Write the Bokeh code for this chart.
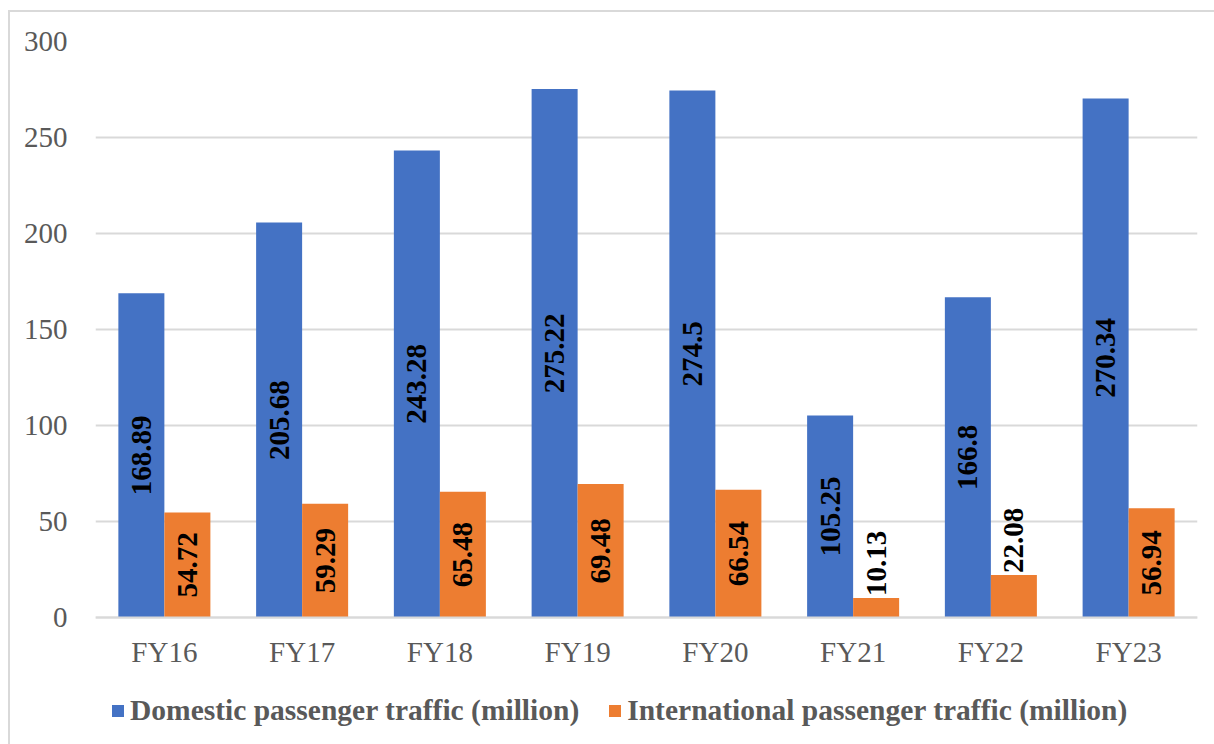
from math import pi
from bokeh.plotting import figure
from bokeh.models import (ColumnDataSource, FactorRange, Range1d, Legend, LegendItem,
                          FixedTicker)
from bokeh.transform import dodge
from bokeh.core.properties import value
from bokeh.embed import file_html
from bokeh.resources import INLINE

# ---- data ----
categories = ["FY16", "FY17", "FY18", "FY19", "FY20", "FY21", "FY22", "FY23"]
domestic = [168.89, 205.68, 243.28, 275.22, 274.5, 105.25, 166.8, 270.34]
international = [54.72, 59.29, 65.48, 69.48, 66.54, 10.13, 22.08, 56.94]
series_names = ["Domestic passenger traffic (million)",
                "International passenger traffic (million)"]
y_ticks = [0, 50, 100, 150, 200, 250, 300]

BLUE = "#4472C4"
ORANGE = "#ED7D31"
GRID = "#D9D9D9"
TEXT = "#595959"
FONT = "Liberation Serif"
FS = "29px"

# layout: plotted value band 0..300 spans 576 px; the frame continues below
# zero so the category labels and legend can live inside it
band_px = 576
frame_h = 703
y_max = y_ticks[-1]
y_min = -(frame_h - band_px) * y_max / band_px

src = ColumnDataSource(dict(cats=categories, dom=domestic, intl=international))

p = figure(x_range=FactorRange(*categories), y_range=Range1d(y_min, y_max),
           frame_width=1102, frame_height=frame_h,
           output_backend="svg", toolbar_location=None,
           min_border_left=85, min_border_right=17, min_border_top=29,
           min_border_bottom=0)
p.styles = {"margin-left": "8px", "margin-top": "10px",
            "border-left": f"2px solid {GRID}", "border-top": f"2px solid {GRID}"}
p.outline_line_color = None
p.background_fill_color = "white"
p.border_fill_color = "white"

bw = 0.334
r1 = p.vbar(x=dodge("cats", -bw / 2, range=p.x_range), top="dom", width=bw,
            source=src, fill_color=BLUE, line_color=None)
r2 = p.vbar(x=dodge("cats", bw / 2, range=p.x_range), top="intl", width=bw,
            source=src, fill_color=ORANGE, line_color=None)

# data labels: centred inside bar, or above bar when the bar is too short
min_inside = 40
for vals, off in ((domestic, -bw / 2), (international, bw / 2)):
    inside = [(c, v / 2, f"{v:g}") for c, v in zip(categories, vals) if v >= min_inside]
    outside = [(c, v, f"{v:g}") for c, v in zip(categories, vals) if v < min_inside]
    if inside:
        s = ColumnDataSource(dict(c=[a[0] for a in inside], y=[a[1] for a in inside],
                                  t=[a[2] for a in inside]))
        p.text(x=dodge("c", off, range=p.x_range), y="y", text="t", source=s,
               angle=pi / 2, text_align="center", text_baseline="middle",
               text_font=value(FONT), text_font_style="bold", text_font_size=FS,
               text_color="black")
    if outside:
        s = ColumnDataSource(dict(c=[a[0] for a in outside], y=[a[1] for a in outside],
                                  t=[a[2] for a in outside]))
        p.text(x=dodge("c", off, range=p.x_range), y="y", text="t", source=s,
               angle=pi / 2, text_align="left", text_baseline="middle",
               y_offset=-2,
               text_font=value(FONT), text_font_style="bold", text_font_size=FS,
               text_color="black")

# axes
p.yaxis.ticker = FixedTicker(ticks=y_ticks)
p.yaxis.axis_line_color = None
p.yaxis.major_tick_line_color = None
p.yaxis.minor_tick_line_color = None
p.yaxis.major_label_standoff = 22
p.yaxis.major_label_text_font = FONT
p.yaxis.major_label_text_font_size = FS
p.yaxis.major_label_text_color = TEXT

p.xaxis.fixed_location = 0
p.xaxis.axis_line_color = GRID
p.xaxis.axis_line_width = 2
p.xaxis.major_tick_line_color = None
p.xaxis.minor_tick_line_color = None
p.xaxis.major_label_standoff = 12
p.xaxis.major_label_text_font = FONT
p.xaxis.major_label_text_font_size = FS
p.xaxis.major_label_text_color = TEXT

p.xgrid.grid_line_color = None
p.ygrid.grid_line_color = GRID
p.ygrid.grid_line_width = 2

legend = Legend(items=[LegendItem(label=series_names[0], renderers=[r1]),
                       LegendItem(label=series_names[1], renderers=[r2])],
                orientation="horizontal", location=(15, 17))
legend.glyph_width = 15
legend.glyph_height = 15
legend.label_standoff = 5
legend.spacing = 28
legend.padding = 0
legend.margin = 0
legend.border_line_color = None
legend.background_fill_alpha = 0
legend.label_text_font = FONT
legend.label_text_font_style = "bold"
legend.label_text_font_size = "29.5px"
legend.label_text_color = TEXT
p.add_layout(legend)

open("out.html", "w").write(file_html(p, INLINE))
